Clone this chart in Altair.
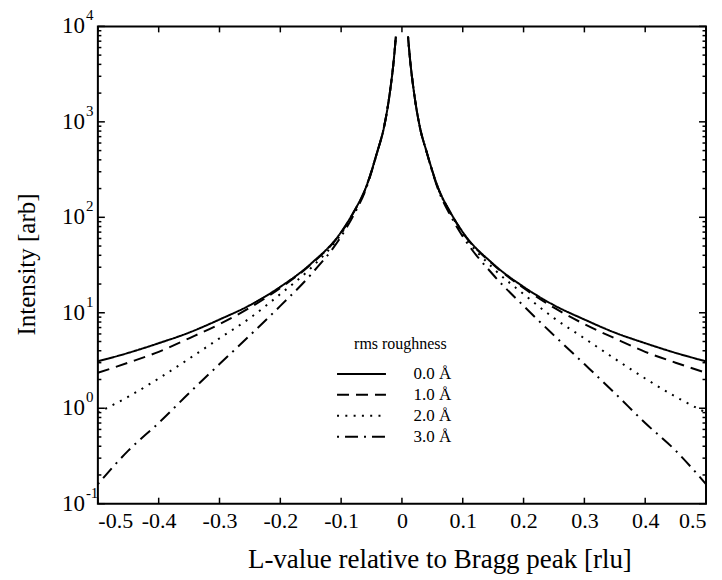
import altair as alt
import pandas as pd

# |L| positions (rlu) at which the curves were read; the left branch mirrors them
L_abs = [0.01, 0.0135, 0.02, 0.03, 0.04, 0.06, 0.08, 0.1, 0.15, 0.2, 0.25, 0.3, 0.35, 0.4, 0.45, 0.5]
I_00 = [7800, 4400, 2000, 850, 500, 200, 112, 70, 32.5, 18.7, 12, 8.5, 6.2, 4.8, 3.8, 3.1]
I_10 = [7800, 4400, 2000, 850, 500, 199, 111, 69, 32, 18.2, 11.3, 7.6, 5.4, 3.9, 3.0, 2.35]
I_20 = [7800, 4400, 2000, 848, 498, 197, 109, 67, 29.3, 15.7, 8.8, 5.4, 3.3, 2.05, 1.32, 0.9]
I_30 = [7800, 4400, 1995, 845, 495, 192, 104, 63, 25, 11.8, 5.8, 2.9, 1.44, 0.7, 0.36, 0.16]
series_names = ["0.0 Å", "1.0 Å", "2.0 Å", "3.0 Å"]
series_vals = [I_00, I_10, I_20, I_30]

x_ticks = [-0.5, -0.4, -0.3, -0.2, -0.1, 0.0, 0.1, 0.2, 0.3, 0.4, 0.5]
y_major = [0.1, 1, 10, 100, 1000, 10000]
y_exp = ["-1", "0", "1", "2", "3", "4"]
y_minor = [k * d for d in [0.1, 1, 10, 100, 1000] for k in range(2, 10)]

rows = []
for name, vals in zip(series_names, series_vals):
    for side in (-1, 1):
        for L, v in zip(L_abs, vals):
            rows.append({"L": side * L, "I": v, "roughness": name, "branch": side})
df = pd.DataFrame(rows)

W, H = 609, 478
FONT = "Liberation Serif"
xs = alt.Scale(domain=[-0.5, 0.5], nice=False, zero=False)
ys = alt.Scale(type="log", domain=[0.1, 10000], nice=False)

lines = alt.Chart(df).mark_line(color="black", strokeWidth=2, interpolate="monotone", strokeCap="butt").encode(
    x=alt.X("L:Q", scale=xs, axis=alt.Axis(
        values=x_ticks, title="L-value relative to Bragg peak [rlu]", grid=False, ticks=False, domain=False,
        labelPadding=7, labelFont=FONT, labelFontSize=22, labelColor="black",
        labelExpr="datum.value == 0 ? '0' : (datum.value < 0 ? '-' + format(-datum.value, '.1f') : format(datum.value, '.1f'))",
        titleFont=FONT, titleFontSize=27, titleFontWeight="normal", titleColor="black",
        titleX=342, titleY=56, titleBaseline="middle")),
    y=alt.Y("I:Q", scale=ys, axis=alt.Axis(
        title="Intensity [arb]", grid=False, ticks=False, domain=False, labels=False,
        titleFont=FONT, titleFontSize=25, titleFontWeight="normal", titleColor="black",
        titleX=-71, titleY=238, titleBaseline="middle")),
    detail="branch:N",
    strokeDash=alt.StrokeDash("roughness:N", scale=alt.Scale(
        domain=series_names, range=[[1, 0], [12, 7], [2, 6.3], [2, 6, 13, 6]]),
        legend=alt.Legend(title="rms roughness", orient="none", legendX=253, legendY=310,
                          symbolType="M-2.5,0H2.5", symbolSize=384, symbolStrokeWidth=2,
                          symbolStrokeColor="black", labelOffset=41, rowPadding=2, padding=0,
                          titleAnchor="middle", titlePadding=11)),
)

ymaj_df = pd.DataFrame({"I": y_major, "e": y_exp})
ymin_df = pd.DataFrame({"I": y_minor})
xt_df = pd.DataFrame({"L": x_ticks})

def yrule(data, x0, x1):
    return alt.Chart(data).mark_rule(color="black", strokeWidth=1.5).encode(
        y=alt.Y("I:Q", scale=ys), x=alt.value(x0), x2=alt.value(x1))

def xrule(y0, y1):
    return alt.Chart(xt_df).mark_rule(color="black", strokeWidth=1.5).encode(
        x=alt.X("L:Q", scale=xs), y=alt.value(y0), y2=alt.value(y1))

ticks = [
    yrule(ymaj_df, 0, 7), yrule(ymin_df, 0, 3.5),
    yrule(ymaj_df, W, W - 7), yrule(ymin_df, W, W - 3.5),
    xrule(H, H - 6), xrule(0, 6),
]

ten = alt.Chart(ymaj_df).mark_text(align="right", baseline="middle", font=FONT, fontSize=23, color="black").encode(
    y=alt.Y("I:Q", scale=ys), x=alt.value(-13), text=alt.value("10"))
expo = alt.Chart(ymaj_df).mark_text(align="left", baseline="middle", font=FONT, fontSize=15, color="black", dy=-11).encode(
    y=alt.Y("I:Q", scale=ys), x=alt.value(-12), text="e:N")

chart = alt.layer(lines, *ticks, ten, expo).properties(
    width=W, height=H,
    background="white",
    autosize=alt.AutoSizeParams(type="none"),
    padding={"left": 90, "top": 18, "right": 8, "bottom": 74},
).configure_view(stroke="black", strokeWidth=2).configure_axis(
    labelFont=FONT, labelColor="black",
    titleFont=FONT, titleFontWeight="normal", titleColor="black",
).configure_legend(
    labelFont=FONT, labelFontSize=17, labelColor="black",
    titleFont=FONT, titleFontSize=16, titleFontWeight="normal", titleColor="black",
)

chart.save("out.html", embed_options={"renderer": "svg", "actions": False})
